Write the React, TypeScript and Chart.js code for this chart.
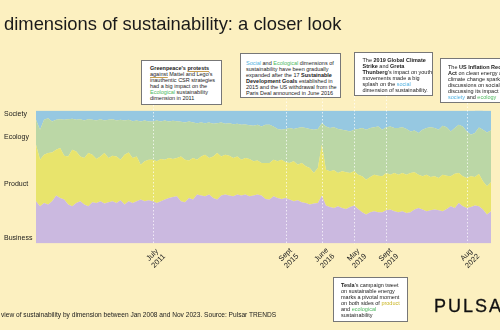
import React, { useEffect, useRef } from "react";
import { Chart, registerables } from "chart.js";
Chart.register(...registerables);

// Share of conversation (%) per period, Jan 2008 -> Nov 2023 (stacked to 100)
const business = [31.75,28,30.5,29.25,31.75,36,34.25,33,29.25,28,30.5,31.75,29.25,28,31,30.5,31.75,30,31,31.75,30.5,32.5,29.25,31.75,30.5,31.75,33,31.75,32.5,31.75,30.5,31.75,33,34.25,35,35.5,31.75,31,34.25,33,36.75,36,35.5,36.75,34.25,33,36,36.75,36,35.5,36.75,36,36.75,35.5,36,36.75,36,33.5,33,35.5,34.25,33.5,34.25,33,31.75,32.5,31,30.5,29.25,30,30.5,36,28.5,27.5,26.75,28,26.75,26,27.5,28.5,26,23.5,21.75,23.5,24.25,23.5,23.5,25,25.5,24.25,23.5,24.25,23,23.5,25.5,26.75,25.5,24.25,25,25.5,25,24.25,26,28,26.75,30.5,28,26.75,27.5,28.5,28,25.5,21.75,24.25];
const product = [42.5,35,36.25,38.75,36.75,34.5,37.5,33,36.25,42.5,38.75,33.75,35,40,35.75,33,33.75,38,33.25,34.25,35,30.5,37.5,36.75,33.75,33.75,26.25,30,30.5,31.25,31.25,31.75,30,30,28.5,28.75,33.75,32,28.25,31.25,26.25,29.5,31.25,27.5,31.25,35,29.5,30,30,28.75,28.75,27,27.5,28,25.75,25.75,24.5,27,27.5,27.5,27.5,29.5,26.75,27.5,30,26.75,29.5,27.5,27.5,23,26.25,38.25,27,26.75,28.25,25,27.5,27.5,25.5,25.75,25.75,27,26.25,26.5,27.5,27.5,27,28,26.25,28.75,28.25,28.75,28.75,29.5,28,25,25,27.5,25,25,24.25,27.5,25,22.5,25.75,22.5,22.5,22.5,23,21.5,24.25,21.25,21.25,21.75];
const ecology = [18.75,22.5,26.25,26.25,23.25,22.5,21.75,27,28,23.25,23.75,28,28.25,25.5,26.25,29,28,24.5,28.75,27.5,27,30,25.75,24.5,27.75,27,32.5,30.75,28.75,28.75,30.75,28.25,29.5,27.5,28.75,27.75,26,28,29.25,26.75,27.5,25.5,23.75,26.75,24.5,22.5,25.5,23.25,24.5,25.5,24.5,26.25,25.25,25.5,26.75,26.75,27.5,28.75,28.75,25,24.25,22.5,25,26.25,24.25,27.5,27,28.75,29.25,32.5,29.25,16.25,32.5,32.5,32.5,33,31.25,31.5,31.25,31.25,34.25,36.25,37.5,36.75,35.75,37,35,34.5,36.25,33.75,35,34.5,34.25,31.25,31.5,31.25,35,35,37.5,36.25,36.25,36.75,36.5,33.75,34.25,36.25,37.5,35,31.25,33,35,38.75,40.5,39];
const society = [7,14.5,7,5.75,8.25,7,6.5,7,6.5,6.25,7,6.5,7.5,6.5,7,7.5,6.5,7.5,7,6.5,7.5,7,7.5,7,8,7.5,8.25,7.5,8.25,8.25,7.5,8.25,7.5,8.25,7.75,8,8.5,9,8.25,9,9.5,9,9.5,9,10,9.5,9,10,9.5,10.25,10,10.75,10.5,11,11.5,10.75,12,10.75,10.75,12,14,14.5,14,13.25,14,13.25,12.5,13.25,14,14.5,14,9.5,12,13.25,12.5,14,14.5,15,15.75,14.5,14,13.25,14.5,13.25,12.5,12,14.5,12.5,12,13.25,13.25,12.5,14,15.75,15,17,14.5,13.25,12.5,13.25,14.5,11.5,12.5,15.75,13.25,10.75,12,15.75,18.25,17,15.75,14.5,16.5,15];

const periods = business.map((_, i) => String(i));
const seriesNames = ["Business", "Product", "Ecology", "Society"];
const seriesColors = ["#CBB9E0", "#E8E46C", "#BBD7A6", "#96C8E1"];

const markerIndex = [29, 62, 71, 79, 87, 107];
const markerLabels = [["July", "2011"], ["Sept", "2015"], ["June", "2016"], ["May", "2019"], ["Sept", "2019"], ["Aug", "2022"]];
const markerLineTop = [105, 98, 98, 96, 96, 103];

const FONT = '"Liberation Sans", Arial, sans-serif';
const BG = "#FCF0C0";

const markerPlugin = {
  id: "markers",
  afterDatasetsDraw(chart: any) {
    const ctx = chart.ctx;
    const xs = chart.scales.x;
    const area = chart.chartArea;
    ctx.save();
    markerIndex.forEach((idx, k) => {
      const x = Math.round(xs.getPixelForValue(idx)) + 0.5;
      ctx.strokeStyle = "rgba(255,255,255,0.7)";
      ctx.lineWidth = 1;
      ctx.setLineDash([1.5, 2]);
      ctx.beginPath();
      ctx.moveTo(x, markerLineTop[k]);
      ctx.lineTo(x, area.bottom);
      ctx.stroke();
      ctx.setLineDash([]);
      ctx.save();
      ctx.translate(x + 2, 258);
      ctx.rotate(-Math.PI / 4);
      ctx.fillStyle = "#222";
      ctx.font = `7.5px ${FONT}`;
      ctx.textAlign = "center";
      ctx.textBaseline = "middle";
      ctx.fillText(markerLabels[k][0], 0, -4.3);
      ctx.fillText(markerLabels[k][1], 0, 4.3);
      ctx.restore();
    });
    ctx.restore();
  },
};

const txt = { fontFamily: FONT, color: "#1a1a1a", position: "absolute" as const, whiteSpace: "nowrap" as const };
const boxStyle = (left: number, top: number, width: number, height: number) => ({
  position: "absolute" as const,
  left, top, width, height,
  background: "#fff",
  border: "1px solid #777",
  boxSizing: "border-box" as const,
  fontFamily: FONT,
  fontSize: "5.5px",
  lineHeight: "6.1px",
  color: "#1a1a1a",
  whiteSpace: "nowrap" as const,
  overflow: "hidden" as const,
});
const blue = { color: "#4FB0E0" };
const green = { color: "#4DB85E" };
const yellowT = { color: "#C9B420" };

export default function App() {
  const ref = useRef<HTMLCanvasElement>(null);
  useEffect(() => {
    const data = [business, product, ecology, society];
    const chart = new Chart(ref.current!, {
      type: "line",
      data: {
        labels: periods,
        datasets: data.map((d, i) => ({
          label: seriesNames[i],
          data: d,
          backgroundColor: seriesColors[i],
          borderColor: seriesColors[i],
          borderWidth: 0,
          pointRadius: 0,
          fill: i === 0 ? "origin" : "-1",
          tension: 0,
        })),
      },
      options: {
        responsive: false,
        animation: false,
        layout: { padding: { left: 36, right: 9, top: 110.5, bottom: 86.5 } },
        plugins: { legend: { display: false }, tooltip: { enabled: false } },
        scales: {
          x: { display: false, offset: false },
          y: { display: false, stacked: true, min: 0, max: 100 },
        },
      },
      plugins: [markerPlugin],
    });
    return () => chart.destroy();
  }, []);

  return (
    <div style={{ position: "fixed", left: 0, top: 0, width: 500, height: 330, background: BG, overflow: "hidden" }}>
      <canvas ref={ref} width={500} height={330} style={{ position: "absolute", left: 0, top: 0 }} />
      <div style={{ ...txt, left: 4, top: 15, fontSize: "18.4px", lineHeight: "18px" }}>dimensions of sustainability: a closer look</div>
      <div style={{ ...txt, left: 4, top: 110, fontSize: "7px", lineHeight: "7px" }}>Society</div>
      <div style={{ ...txt, left: 4, top: 133.2, fontSize: "7px", lineHeight: "7px" }}>Ecology</div>
      <div style={{ ...txt, left: 4, top: 179.8, fontSize: "7px", lineHeight: "7px" }}>Product</div>
      <div style={{ ...txt, left: 4, top: 233.8, fontSize: "7px", lineHeight: "7px" }}>Business</div>
      <div style={{ ...txt, left: 1, top: 310.8, fontSize: "6.6px", lineHeight: "7px" }}>view of sustainability by dimension between Jan 2008 and Nov 2023. Source: Pulsar TRENDS</div>
      <div style={{ ...txt, left: 434, top: 297, fontSize: "18px", lineHeight: "18px", letterSpacing: "2px", color: "#111", fontWeight: 500, WebkitTextStroke: "0.3px #111" }}>PULSAR</div>

      <div style={{ ...boxStyle(141, 60, 81, 45), padding: "4px 0 0 8px" }}>
        <b>Greenpeace's <span style={{ textDecoration: "underline", textDecorationColor: "#C9A050" }}>protests</span></b><br />
        <span style={{ textDecoration: "underline", textDecorationColor: "#C9A050" }}>against</span> Mattel and Lego's<br />
        inauthentic CSR strategies<br />
        had a big impact on the<br />
        <span style={green}>Ecological</span> sustainability<br />
        dimension in 2011
      </div>
      <div style={{ ...boxStyle(240, 53, 101, 45), padding: "5.5px 0 0 5px" }}>
        <span style={blue}>Social</span> and <span style={green}>Ecological</span> dimensions of<br />
        sustainability have been gradually<br />
        expanded after the 17 <b>Sustainable</b><br />
        <b>Development Goals</b> established in<br />
        2015 and the US withdrawal from the<br />
        Paris Deal announced in June 2016
      </div>
      <div style={{ ...boxStyle(354, 52, 79, 44), padding: "3.5px 0 0 7.5px" }}>
        The <b>2019 Global Climate</b><br />
        <b>Strike</b> and <b>Greta</b><br />
        <b>Thunberg</b>'s impact on youth<br />
        movements made a big<br />
        splash on the <span style={blue}>social</span><br />
        dimension of sustainability.
      </div>
      <div style={{ ...boxStyle(440, 58, 80, 45), padding: "4.5px 0 0 7px" }}>
        The <b>US Inflation Reduction</b><br />
        <b>Act</b> on clean energy and<br />
        climate change sparks<br />
        discussions on social media<br />
        discussing its impact on<br />
        <span style={blue}>society</span> and <span style={green}>ecology</span>
      </div>
      <div style={{ ...boxStyle(333, 277, 75, 45), padding: "3.5px 0 0 7px" }}>
        <b>Tesla</b>'s campaign tweet<br />
        on sustainable energy<br />
        marks a pivotal moment<br />
        on both sides of <span style={yellowT}>product</span><br />
        and <span style={green}>ecological</span><br />
        sustainability
      </div>
    </div>
  );
}
